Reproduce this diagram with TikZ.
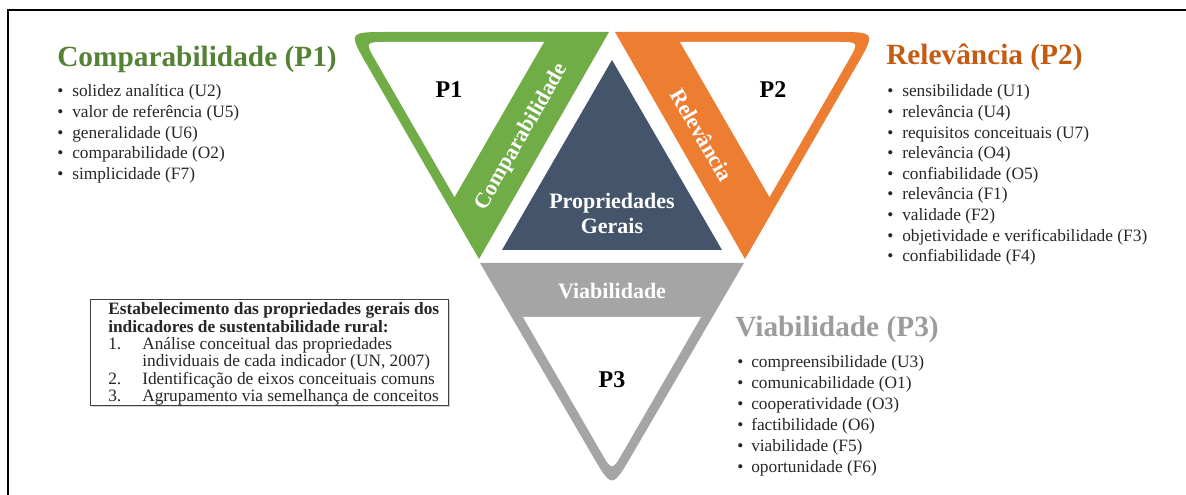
\documentclass[tikz,border=0pt]{standalone}
\usepackage{fontspec}
\setmainfont{Liberation Serif}
\usetikzlibrary{shadows}

\definecolor{propgreen}{HTML}{70AD47}
\definecolor{propgreendark}{HTML}{548235}
\definecolor{proporange}{HTML}{ED7D31}
\definecolor{proporangedark}{HTML}{C55A11}
\definecolor{propgray}{HTML}{A5A5A5}
\definecolor{propgraytitle}{HTML}{9C9C9C}
\definecolor{propslate}{HTML}{44546A}
\definecolor{proptext}{HTML}{262626}

\tikzset{
  listhead/.style={anchor=base west, inner sep=0pt, font=\bfseries\fontsize{22}{26}\selectfont},
  listitem/.style={anchor=base west, inner sep=0pt, text=proptext, font=\fontsize{13}{15}\selectfont},
  bandlabel/.style={text=white, inner sep=0pt, font=\bfseries\fontsize{16.5}{18.75}\selectfont},
  cornerlabel/.style={inner sep=0pt, text=black, font=\bfseries\fontsize{18}{21}\selectfont},
  boxline/.style={anchor=base west, inner sep=0pt, text=proptext, font=\fontsize{13}{14}\selectfont},
}

\begin{document}
\begin{tikzpicture}[x=0.75pt, y=-0.75pt]
	\useasboundingbox (0,0) rectangle (1186,495);
	\draw[line width=1.5pt] (8,495) -- (8,10) -- (1186,10);

	% P1 (green)
	\fill[propgreen] (609,32) -- (479,259) -- (368,66.6) .. controls (348,32) .. (388,32) -- cycle;
	\fill[white] (544,42) -- (454.5,197) -- (376,61.1) .. controls (365,42) .. (387,42) -- cycle;
	% P2 (orange)
	\fill[proporange] (615,32) -- (745,259) -- (856,66.6) .. controls (876,32) .. (836,32) -- cycle;
	\fill[white] (680,42) -- (769.5,197) -- (848,61.1) .. controls (859,42) .. (837,42) -- cycle;
	% P3 (gray)
	\fill[propgray] (480,263) -- (744,263) -- (632.2,454.5) .. controls (612,489) .. (591.8,454.5) -- cycle;
	\fill[white] (523,317) -- (701,317) -- (623,452) .. controls (612,471) .. (601,452) -- cycle;
	% centre
	\fill[propslate] (612,60) -- (722,250) -- (502,250) -- cycle;

	\node[bandlabel, rotate=60] (comp) at (522,137) {Comparabilidade};
	\node[bandlabel, rotate=-60] (rele) at (702,135) {Relevância};
	\node[bandlabel] (viab) at (612,291) {Viabilidade};
	\node[bandlabel, align=center] (gerais) at (612,213) {Propriedades\\Gerais};

	\node[cornerlabel] (pone) at (449,90) {P1};
	\node[cornerlabel] (ptwo) at (773,90) {P2};
	\node[cornerlabel] (pthree) at (612,380) {P3};

	% lists
	\node[listhead, text=propgreendark] (headone) at (57,67) {Comparabilidade (P1)};
	\foreach \txt [count=\i] in {solidez analítica (U2), valor de referência (U5),
		generalidade (U6), comparabilidade (O2), simplicidade (F7)}
		\node[listitem] (itemone\i) at (57,{97+20.6*(\i-1)}) {\makebox[11.25pt][l]{\textbullet}\txt};

	\node[listhead, text=proporangedark] (headtwo) at (886,65) {Relevância (P2)};
	\foreach \txt [count=\i] in {sensibilidade (U1), relevância (U4), requisitos conceituais (U7),
		relevância (O4), confiabilidade (O5), relevância (F1), validade (F2),
		objetividade e verificabilidade (F3), confiabilidade (F4)}
		\node[listitem] (itemtwo\i) at (887,{97+20.6*(\i-1)}) {\makebox[11.25pt][l]{\textbullet}\txt};

	\node[listhead, text=propgraytitle] (headthree) at (735,337) {Viabilidade (P3)};
	\foreach \txt [count=\i] in {compreensibilidade (U3), comunicabilidade (O1), cooperatividade (O3),
		factibilidade (O6), viabilidade (F5), oportunidade (F6)}
		\node[listitem] (itemthree\i) at (737,{368+20.8*(\i-1)}) {\makebox[10.5pt][l]{\textbullet}\txt};

	% steps box
	\node[draw=black!75, line width=1.1pt, fill=white, anchor=north west, minimum width=268.5pt,
		minimum height=79.5pt, drop shadow={shadow xshift=1pt, shadow yshift=-1pt, opacity=0.35}]
		(stepsbox) at (90,299) {};
	\node[boxline, font=\bfseries\fontsize{13}{14}\selectfont] (stepsa) at (108,315) {Estabelecimento das propriedades gerais dos};
	\node[boxline, font=\bfseries\fontsize{13}{14}\selectfont] (stepsb) at (108,332.3) {indicadores de sustentabilidade rural:};
	\node[boxline] (numone) at (108,349.6) {1.};
	\node[boxline] (stepone) at (142,349.6) {Análise conceitual das propriedades};
	\node[boxline] (steponeb) at (142,366.9) {individuais de cada indicador (UN, 2007)};
	\node[boxline] (numtwo) at (108,384.2) {2.};
	\node[boxline] (steptwo) at (142,384.2) {Identificação de eixos conceituais comuns};
	\node[boxline] (numthree) at (108,401.5) {3.};
	\node[boxline] (stepthree) at (142,401.5) {Agrupamento via semelhança de conceitos};
\end{tikzpicture}
\end{document}
